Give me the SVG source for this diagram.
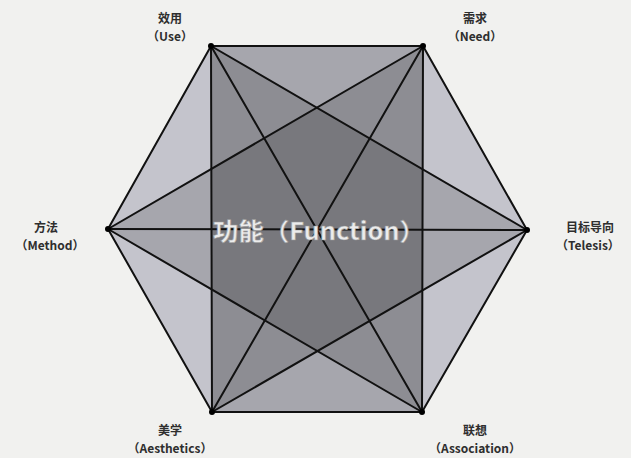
<svg xmlns="http://www.w3.org/2000/svg" width="631" height="458" viewBox="0 0 631 458">
<style>
.lbl{font-family:"Noto Sans CJK SC","Liberation Sans",sans-serif;font-size:12px;font-weight:bold;fill:#2e2e2e;text-anchor:middle}
.ln{stroke:#111;stroke-width:2;fill:none;stroke-linecap:round}
.sh{fill:#000;fill-opacity:0.15}
.center{font-family:"Noto Sans CJK SC","Liberation Sans",sans-serif;font-size:24px;font-weight:bold;fill:#ececec;stroke:#9a9a9a;stroke-width:0.6}
</style>
<rect width="631" height="458" fill="#f1f1ef"/>
<g id="shading">
<polygon points="211,46 423,46 527,230 422,412 212,412 108,229" fill="#c4c4cc"/>
<polygon class="sh" points="211,46 423,46 422,412 212,412"/>
<polygon class="sh" points="211,46 527,230 212,412"/>
<polygon class="sh" points="423,46 108,229 422,412"/>
</g>
<g id="connectors">
<polygon class="ln" points="211,46 423,46 527,230 422,412 212,412 108,229"/>
<line class="ln" x1="211" y1="46" x2="212" y2="412"/>
<line class="ln" x1="423" y1="46" x2="422" y2="412"/>
<line class="ln" x1="108" y1="229" x2="527" y2="230"/>
<line class="ln" x1="211" y1="46" x2="527" y2="230"/>
<line class="ln" x1="211" y1="46" x2="422" y2="412"/>
<line class="ln" x1="423" y1="46" x2="108" y2="229"/>
<line class="ln" x1="423" y1="46" x2="212" y2="412"/>
<line class="ln" x1="108" y1="229" x2="422" y2="412"/>
<line class="ln" x1="527" y1="230" x2="212" y2="412"/>
</g>
<g id="n-use"><circle cx="211" cy="46" r="3" fill="#000"/><text class="lbl" x="170" y="23">效用</text><text class="lbl" x="170" y="41">（Use）</text></g>
<g id="n-need"><circle cx="423" cy="46" r="3" fill="#000"/><text class="lbl" x="475" y="23">需求</text><text class="lbl" x="475" y="41">（Need）</text></g>
<g id="n-method"><circle cx="108" cy="229" r="3" fill="#000"/><text class="lbl" x="46" y="232">方法</text><text class="lbl" x="50" y="250">（Method）</text></g>
<g id="n-telesis"><circle cx="527" cy="230" r="3" fill="#000"/><text class="lbl" x="590" y="232">目标导向</text><text class="lbl" x="588" y="250">（Telesis）</text></g>
<g id="n-aesthetics"><circle cx="212" cy="412" r="3" fill="#000"/><text class="lbl" x="170" y="435">美学</text><text class="lbl" x="170" y="453">（Aesthetics）</text></g>
<g id="n-association"><circle cx="422" cy="412" r="3" fill="#000"/><text class="lbl" x="475" y="435">联想</text><text class="lbl" x="475" y="453">（Association）</text></g>
<g id="n-function"><text class="center" x="213" y="240" textLength="212" lengthAdjust="spacingAndGlyphs">功能（Function）</text></g>
</svg>
